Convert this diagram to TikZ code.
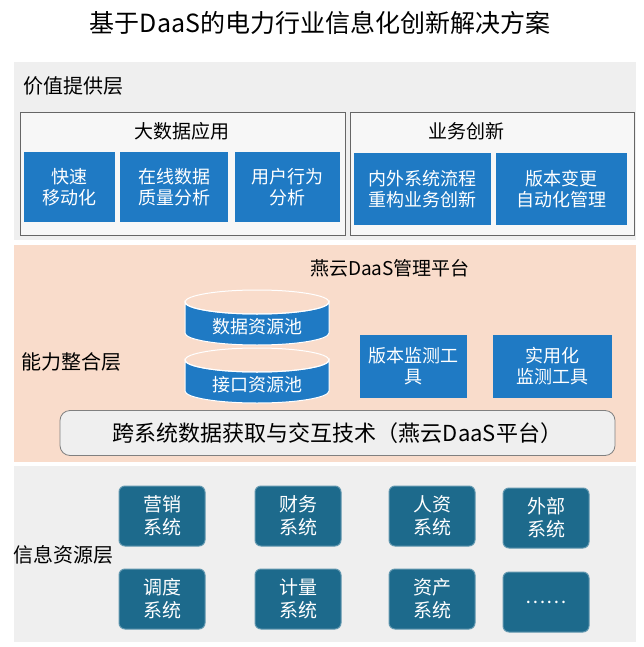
\documentclass[tikz,border=0pt]{standalone}
\usepackage{fontspec}
\setmainfont{Noto Sans CJK SC}
\definecolor{bblue}{HTML}{1F7AC4}
\definecolor{teal}{HTML}{1D6A8C}
\definecolor{peach}{HTML}{F9DCCB}
\definecolor{lgray}{HTML}{EFEFEF}
\tikzset{
  band/.style={fill=#1,draw=none},
  group/.style={draw=gray!80!black,fill=white!94!gray,line width=0.8pt},
  bluebox/.style={fill=bblue,text=white,font=\fontsize{18}{21}\selectfont,align=center,inner sep=0pt},
  sysbox/.style={fill=teal,draw=teal!70!white,line width=1pt,rounded corners=6pt,text=white,
    font=\fontsize{19}{23}\selectfont,align=center,minimum width=86pt,minimum height=60pt},
  layer/.style={font=\fontsize{20}{24}\selectfont,anchor=west}
}
\begin{document}
\begin{tikzpicture}[x=1pt,y=-1pt]
  \useasboundingbox (0,0) rectangle (644,647);
  \fill[white] (0,0) rectangle (644,647);
  \node (title) at (320,23) {\fontsize{25}{28}\selectfont 基于DaaS的电力行业信息化创新解决方案};
  % layers
  \fill[band=lgray] (14,62) rectangle (636,240);
  \fill[band=peach] (14,245) rectangle (636,462);
  \fill[band=lgray] (14,466) rectangle (636,642);
  \node[layer] (value) at (20,86) {价值提供层};
  \node[layer] (ability) at (18,362) {能力整合层};
  \node[layer] (info) at (10,555) {信息资源层};
  % value layer
  \draw[group] (20,112) rectangle (345,235);
  \node[font=\fontsize{19}{22}\selectfont] (bigdata) at (182,131) {大数据应用};
  \draw[group] (350,112) rectangle (634,235);
  \node[font=\fontsize{19}{22}\selectfont] (biz) at (466,131) {业务创新};
  \node[bluebox,minimum width=91pt,minimum height=70pt] (fast) at (69.5,187) {快速\\移动化};
  \node[bluebox,minimum width=108pt,minimum height=70pt] (quality) at (174,187) {在线数据\\质量分析};
  \node[bluebox,minimum width=105pt,minimum height=70pt] (user) at (287.5,187) {用户行为\\分析};
  \node[bluebox,minimum width=137pt,minimum height=72pt] (flow) at (422.5,189) {内外系统流程\\重构业务创新};
  \node[bluebox,minimum width=131pt,minimum height=72pt] (ver) at (561.5,189) {版本变更\\自动化管理};
  % ability layer
  \node[font=\fontsize{19}{22}\selectfont] (platform) at (390,268) {燕云DaaS管理平台};
  \foreach \t/\lab/\nm in {302/数据资源池/pool, 360/接口资源池/api}{
    \filldraw[fill=bblue,draw=white,line width=1pt]
      (185,\t) -- (185,\t+31) arc[start angle=180,end angle=0,x radius=72,y radius=12] -- (329,\t)
      arc[start angle=0,end angle=180,x radius=72,y radius=12] -- cycle;
    \draw[white,line width=1pt] (257,\t) ellipse[x radius=72,y radius=12];
    \node[text=white,font=\fontsize{18}{21}\selectfont] (\nm) at (257,\t+25) {\lab};
  }
  \node[bluebox,minimum width=107pt,minimum height=63pt] (mon) at (413.5,366.5) {版本监测工\\具};
  \node[bluebox,minimum width=119pt,minimum height=63pt] (use) at (552.5,366.5) {实用化\\监测工具};
  \node[draw=gray,fill=lgray,rounded corners=10pt,line width=0.8pt,minimum width=555pt,minimum height=45pt,
    font=\fontsize{22}{25}\selectfont] (tech) at (337.5,433) {跨系统数据获取与交互技术（燕云DaaS平台）};
  % info layer
  \foreach \x/\a/\b/\c/\d in {162/营销/调度/ma/dd, 298/财务/计量/cw/jl, 432/人资/资产/rz/zc}{
    \node[sysbox] (\c) at (\x,516) {\a\\系统};
    \node[sysbox] (\d) at (\x,599) {\b\\系统};
  }
  \node[sysbox] (ext) at (546,518) {外部\\系统};
  \node[sysbox] (more) at (546,602) {……};
\end{tikzpicture}
\end{document}
